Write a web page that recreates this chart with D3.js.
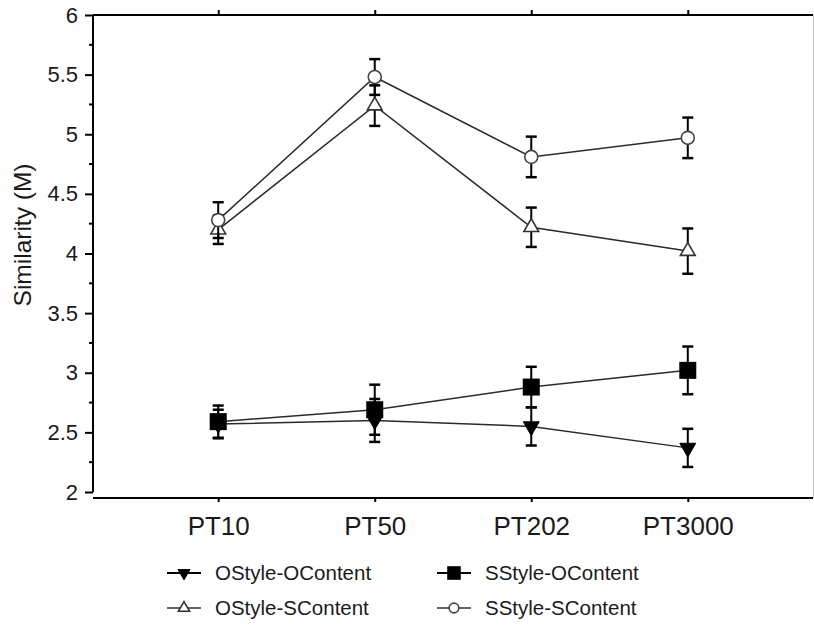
<!DOCTYPE html>
<html>
<head>
<meta charset="utf-8">
<script src="https://d3js.org/d3.v7.min.js"></script>
<style>
  body { margin: 0; background: #fff; }
  svg { display: block; }
  text { font-family: "Liberation Sans", Arial, sans-serif; fill: #1a1a1a; }
</style>
</head>
<body>
<div id="chart"></div>
<script>
// values
var categories = ["PT10", "PT50", "PT202", "PT3000"];
var yTicks = [2, 2.5, 3, 3.5, 4, 4.5, 5, 5.5, 6];

var oStyleOContent = [2.57, 2.60, 2.55, 2.37];
var oStyleOContentErr = [0.12, 0.18, 0.16, 0.16];
var sStyleOContent = [2.59, 2.69, 2.88, 3.02];
var sStyleOContentErr = [0.135, 0.21, 0.17, 0.20];
var oStyleSContent = [4.20, 5.24, 4.22, 4.02];
var oStyleSContentErr = [0.12, 0.17, 0.165, 0.19];
var sStyleSContent = [4.28, 5.48, 4.81, 4.97];
var sStyleSContentErr = [0.15, 0.15, 0.17, 0.17];

var series = [
    {name: "OStyle-OContent", values: oStyleOContent, err: oStyleOContentErr, marker: "tridown"},
    {name: "SStyle-OContent", values: sStyleOContent, err: sStyleOContentErr, marker: "square"},
    {name: "OStyle-SContent", values: oStyleSContent, err: oStyleSContentErr, marker: "triup"},
    {name: "SStyle-SContent", values: sStyleSContent, err: sStyleSContentErr, marker: "circle"}
];

var width = 814, height = 628;
var plotLeft = 93, plotRight = 813, plotTop = 15, yBottom = 492, xAxisY = 498;

var svg = d3.select("#chart").append("svg")
    .attr("width", width)
    .attr("height", height);

var x = d3.scalePoint().domain(categories).range([plotLeft, plotRight]).padding(0.8);
var y = d3.scaleLinear().domain([2, 6]).range([yBottom, plotTop]);

// frame: right edge
svg.append("line")
    .attr("x1", plotRight + 0.5).attr("x2", plotRight + 0.5)
    .attr("y1", plotTop).attr("y2", xAxisY)
    .attr("stroke", "#c4c4c4").attr("stroke-width", 1);

// left axis
var yAxis = svg.append("g").attr("transform", "translate(" + plotLeft + ",0)");
yAxis.call(d3.axisLeft(y).tickValues(yTicks).tickSize(8).tickPadding(7).tickFormat(d3.format("")));
yAxis.select(".domain").attr("stroke-width", 2).attr("d", "M0," + plotTop + "V" + yBottom);
yAxis.selectAll(".tick line").attr("stroke-width", 2);
yAxis.selectAll(".tick text").style("font-size", "22px").attr("fill", "#1a1a1a");
yAxis.selectAll(".minor")
    .data(d3.range(2.25, 6, 0.5))
    .enter().append("line")
    .attr("class", "minor")
    .attr("x1", -4).attr("x2", 0)
    .attr("y1", d => y(d)).attr("y2", d => y(d))
    .attr("stroke", "#000").attr("stroke-width", 2);

// top axis
var tAxis = svg.append("g").attr("transform", "translate(0," + plotTop + ")");
tAxis.call(d3.axisTop(x).tickSize(5).tickFormat(""));
tAxis.select(".domain").attr("stroke-width", 2).attr("d", "M" + plotLeft + ",0H" + plotRight);
tAxis.selectAll(".tick line").attr("stroke-width", 2);

// bottom axis
var bAxis = svg.append("g").attr("transform", "translate(0," + xAxisY + ")");
bAxis.call(d3.axisBottom(x).tickSize(4).tickPadding(15));
bAxis.select(".domain").attr("stroke-width", 2).attr("d", "M" + plotLeft + ",0H" + plotRight);
bAxis.selectAll(".tick line").attr("stroke-width", 2);
bAxis.selectAll(".tick text").style("font-size", "26px").attr("fill", "#1a1a1a");

// y title
svg.append("text")
    .attr("transform", "translate(31,235) rotate(-90)")
    .attr("text-anchor", "middle")
    .style("font-size", "24.5px")
    .text("Similarity (M)");

function drawMarker(g, type, cx, cy, scale) {
    scale = scale || 1;
    if (type === "circle") {
        g.append("circle").attr("cx", cx).attr("cy", cy).attr("r", 6.5 * scale)
            .attr("fill", "#fff").attr("stroke", "#444").attr("stroke-width", 1.6);
    } else if (type === "square") {
        var s = 17 * scale;
        g.append("rect").attr("x", cx - s / 2).attr("y", cy - s / 2).attr("width", s).attr("height", s)
            .attr("fill", "#000");
    } else {
        var sym = d3.symbol().type(d3.symbolTriangle).size((type === "tridown" ? 110 : 95) * scale * scale);
        var rot = type === "tridown" ? 180 : 0;
        g.append("path").attr("d", sym())
            .attr("transform", "translate(" + cx + "," + cy + ") rotate(" + rot + ")")
            .attr("fill", type === "tridown" ? "#000" : "#fff")
            .attr("stroke", type === "tridown" ? "#000" : "#333")
            .attr("stroke-width", type === "tridown" ? 1 : 1.6);
    }
}

var line = d3.line()
    .x((d, i) => x(categories[i]))
    .y(d => y(d));

var plot = svg.append("g");

plot.selectAll(".series-line")
    .data(series)
    .enter().append("path")
    .attr("class", "series-line")
    .attr("d", d => line(d.values))
    .attr("fill", "none")
    .attr("stroke", "#2a2a2a")
    .attr("stroke-width", 1.5);

series.forEach(function(s) {
    var g = plot.append("g");
    s.values.forEach(function(v, i) {
        var cx = x(categories[i]);
        var hi = y(v + s.err[i]), lo = y(v - s.err[i]);
        g.append("line").attr("x1", cx).attr("x2", cx).attr("y1", hi).attr("y2", lo)
            .attr("stroke", "#000").attr("stroke-width", 2);
        [hi, lo].forEach(function(cy) {
            g.append("line").attr("x1", cx - 5.5).attr("x2", cx + 5.5).attr("y1", cy).attr("y2", cy)
                .attr("stroke", "#000").attr("stroke-width", 2.5);
        });
    });
    s.values.forEach(function(v, i) {
        drawMarker(g, s.marker, x(categories[i]), y(v));
    });
});

// legend
var legendPos = [
    {lx: 167, ly: 573}, {lx: 437, ly: 573},
    {lx: 167, ly: 608}, {lx: 437, ly: 608}
];
var legend = svg.append("g");
series.forEach(function(s, i) {
    var p = legendPos[i];
    var filled = s.marker === "square" || s.marker === "tridown";
    var g = legend.append("g");
    g.append("line").attr("x1", p.lx).attr("x2", p.lx + 34).attr("y1", p.ly).attr("y2", p.ly)
        .attr("stroke", filled ? "#000" : "#333").attr("stroke-width", filled ? 2 : 1.5);
    drawMarker(g, s.marker, p.lx + 17, p.ly, s.marker === "square" ? 0.8 : 0.75);
    g.append("text")
        .attr("x", p.lx + 48)
        .attr("y", p.ly)
        .attr("dy", "0.36em")
        .style("font-size", "20.5px")
        .text(s.name);
});
</script>
</body>
</html>
